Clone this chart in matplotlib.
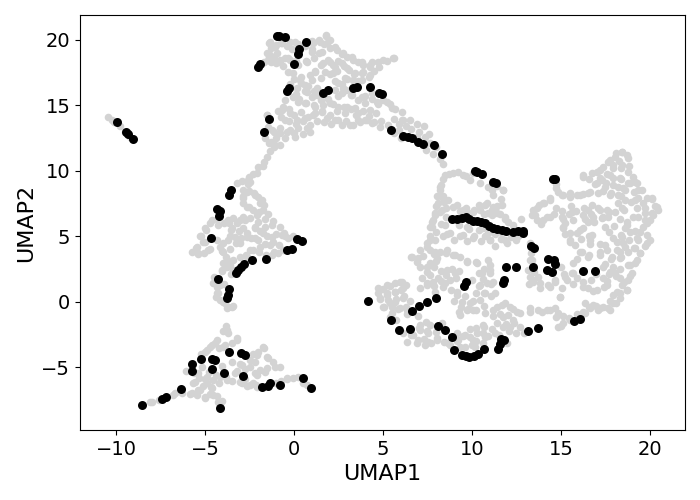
import numpy as np
import matplotlib
matplotlib.use("Agg")
import matplotlib.pyplot as plt

# background cells
spur_bg = [(-10.45,14.08),(-10.25,13.9),(-10.1,13.7),(-9.8,13.4),(-9.5,13.0),(-9.2,12.6)]

top_bg = [
    (-1.4,19.8),(-1.3,19.4),(-1.0,19.6),(-0.7,19.8),(-0.4,19.5),(-0.1,19.3),(-1.5,19.0),(-1.4,18.7),(-1.1,18.6),
    (-0.8,18.5),(-0.5,18.6),(-0.2,18.5),(0.1,18.4),(-0.6,18.0),(-1.0,18.2),(-1.3,18.3),(-1.7,18.3),(0.2,19.7),
    (0.6,19.5),(1.0,19.9),(1.4,20.0),(1.8,20.3),(2.0,20.0),(1.7,19.7),(2.0,19.4),(2.4,19.2),(2.7,18.9),(3.0,18.7),
    (3.3,18.5),(3.6,18.3),(3.9,18.1),(4.3,18.1),(4.7,18.3),(5.2,18.4),(5.6,18.6),(1.0,19.3),(1.4,19.0),(1.1,18.6),
    (0.7,18.4),(1.5,18.1),(1.9,18.5),(2.2,18.1),(2.5,18.4),(2.8,18.0),(3.1,17.7),(2.4,17.6),(2.0,17.4),(3.4,17.4),
    (3.8,17.5),(4.2,17.2),(4.5,17.6),(4.8,17.9),(3.6,16.9),(3.0,17.0),(2.7,16.6),(2.3,16.9),(1.5,17.1),(1.2,17.6),
    (0.9,17.3),(0.4,17.2),(0.0,17.0),(-0.2,16.6),(0.4,16.7),(0.8,16.5),(1.1,16.1),(0.6,16.1),(0.1,15.9),(0.3,15.5),
    (0.7,15.2),(1.1,15.0),(1.5,15.4),(1.3,15.8),(1.9,15.5),(2.2,15.1),(2.5,15.7),(2.9,16.2),(3.2,15.8),(3.6,15.4),
    (4.0,15.7),(4.4,15.5),(4.7,15.1),(5.0,15.4),(5.4,15.1),(5.7,14.7),(-0.4,16.0),(-0.5,15.4),(-0.6,14.9),(-0.9,14.6),
    (-0.3,14.7),(0.0,14.3),(0.4,14.5),(0.8,14.1),(1.2,14.4),(1.6,14.6),(2.0,14.3),(2.4,14.6),(2.8,14.9),(3.2,14.7),
    (3.5,14.3),(3.9,14.6),(4.2,14.2),(4.6,14.4),(-0.7,14.1),(-0.3,13.8),(0.1,13.6),(0.5,13.8),(0.9,13.5),(1.3,13.8),
    (1.7,13.7),(2.1,13.6),(2.5,13.9),(2.9,13.8),(3.3,13.5),(3.7,13.7),(4.1,13.9),(4.5,13.7),(4.9,13.8),(5.3,13.5),
    (-0.8,13.3),(-0.4,13.0),(0.0,12.9),(0.5,12.8),(0.9,13.0),(-1.1,13.0),(-1.5,14.3),(-1.6,12.5),(-1.4,12.1),
    (5.6,14.0),(5.9,13.6),(6.1,13.9),(6.3,13.4),(5.9,13.1),(6.6,13.2),(7.0,13.0),(7.3,13.4),(6.9,13.6),(7.6,12.8),
    (5.6,12.9),(6.0,12.5),(8.0,11.8),(7.4,11.6),(7.8,11.3),(8.2,10.9),(8.4,10.5),
]

top_bg2 = [
    (-1.35,19.87),(-1.07,19.49),(-0.69,19.74),(-0.22,19.87),(0.06,19.87),(-1.35,18.85),(-0.97,18.98),(-1.44,18.47),(-0.79,18.34),
    (-0.32,18.6),(0.71,18.34),(1.0,19.1),(1.09,19.74),(1.46,19.87),(1.78,20.38),(1.84,19.74),(2.3,19.49),(2.77,18.98),(3.24,18.72),
    (3.8,18.34),(4.37,18.34),(5.02,18.47),(5.58,18.6),(4.27,17.96),(1.56,19.1),(1.65,18.22),(2.02,18.34),(2.3,17.96),(2.68,18.22),
    (2.96,17.83),(1.74,17.58),(2.21,17.45),(1.18,17.58),(0.24,18.09),(-0.04,17.45),(-0.32,17.58),(3.43,17.45),(3.9,17.58),(4.27,17.32),
    (3.8,16.94),(3.34,16.94),(2.87,17.07),(2.49,16.69),(2.3,16.18),(2.77,16.31),(2.68,15.92),(3.24,15.8),(3.8,15.67),(4.37,15.92),
    (0.34,16.94),(0.62,16.56),(1.0,16.94),(1.27,16.31),(0.71,16.05),(0.15,16.31),(1.0,15.67),(-0.04,15.67),(0.24,15.29),(0.62,15.16),
    (1.18,14.91),(1.65,15.03),(2.02,15.16),(2.49,14.91),(2.96,14.91),(3.43,14.78),(3.99,15.16),(4.27,14.65),(4.65,15.29),(5.21,15.29),
    (5.49,14.78),(6.05,14.52),(6.52,13.89),(6.05,13.89),(-0.69,14.65),(-0.22,14.4),(-0.5,13.89),(0.15,13.89),(0.62,14.02),(1.09,14.27),
    (1.56,14.52),(1.84,14.02),(2.3,13.89),(2.68,13.5),(3.15,13.5),(3.62,13.89),(3.99,13.89),(4.37,13.63),(4.83,13.38),(3.62,14.4),
    (2.87,14.4),(0.24,13.25),(-0.22,13.13),(-0.79,12.87),(-0.5,12.49),(0.06,12.62),(0.71,13.25),(-1.07,11.98),(-1.53,14.27),(-1.44,13.38),
    (-1.25,13.13),(6.9,12.62),(7.36,12.62),(7.64,12.11),
]

bridge_bg = [(-0.8,12.0),(-1.1,11.8),(-1.35,11.5),(-1.5,11.1),(-1.7,10.7),(-2.0,10.3),(-2.3,9.8),(-2.6,9.3),(-3.2,9.05),
             (-2.9,9.2),(-1.75,10.35),(-1.3,12.2),(-1.0,12.5)]

middle_bg = [
    (-2.55,9.55),(-2.6,9.0),(-2.85,8.55),(-2.55,8.45),(-2.25,8.3),(-2.0,8.0),(-1.8,7.8),(-1.7,7.4),(-2.85,8.05),(-2.85,7.55),
    (-2.55,7.25),(-2.3,7.0),(-1.95,6.9),(-1.45,6.75),(-1.6,6.3),(-1.2,6.15),(-0.8,5.75),(-0.55,5.3),(-0.05,5.0),(-0.5,5.0),
    (-1.0,5.15),(-1.5,5.0),(-1.9,5.4),(-2.2,5.65),(-2.0,6.1),(-2.45,6.4),(-2.85,6.5),(-3.05,6.25),(-3.4,6.4),(-3.65,6.0),
    (-3.95,6.05),(-4.3,6.3),(-4.7,6.0),(-4.95,5.5),(-5.25,5.05),(-5.1,4.55),(-5.5,4.1),(-5.75,3.85),(-5.4,3.65),(-5.05,3.7),
    (-4.7,4.05),(-4.35,4.7),(-4.0,4.5),(-3.6,5.0),(-3.25,4.5),(-2.95,4.9),(-3.1,5.4),(-3.55,5.5),(-2.65,5.3),(-2.4,4.9),
    (-2.0,4.7),(-1.6,4.45),(-1.2,4.6),(-0.85,4.35),(-0.6,4.0),(-1.1,3.85),(-1.55,3.6),(-1.95,3.85),(-2.3,3.95),(-2.7,3.6),
    (-3.05,3.45),(-3.4,3.2),(-3.8,3.45),(-4.05,3.9),(-3.6,4.05),(-4.0,2.95),(-3.75,2.7),(-3.4,2.45),(-4.05,2.4),(-3.55,2.1),
    (-4.5,1.9),(-4.55,1.45),(-4.3,1.15),(-3.95,1.35),(-4.35,0.7),(-4.15,0.15),(-3.9,-0.1),(-3.5,-0.35),(-3.75,-0.45),(-4.4,0.35),
]

middle_bg2 = [
    (-2.65,8.43),(-2.19,8.17),(-2.84,7.92),(-1.91,7.54),(-2.65,7.28),(-1.72,7.03),(-2.09,6.64),(-2.75,6.26),(-3.22,6.01),(-3.69,6.26),
    (-4.25,5.88),(-4.62,6.26),(-5.0,5.63),(-5.28,5.0),(-5.0,4.61),(-5.46,4.23),(-5.37,3.72),(-4.81,3.97),(-4.15,4.23),(-3.97,3.85),
    (-3.78,3.21),(-3.59,2.83),(-3.69,4.74),(-3.31,4.99),(-3.03,4.48),(-2.65,4.99),(-2.19,4.86),(-1.72,5.24),(-1.25,4.99),(-0.69,5.12),
    (-0.31,4.86),(-1.25,5.88),(-1.62,5.75),(-2.47,3.97),(-1.91,4.23),(-1.34,4.35),(-0.88,3.72),(-1.25,3.59),(-2.66,3.46),(-3.5,5.63),
    (-2.84,5.63),(-2.19,5.75),(-4.06,2.45),(-4.43,1.55),(-4.15,1.3),(-4.25,0.66),(-3.97,0.03),(-3.69,-0.35),(-3.4,-0.3),(-2.47,9.19),(-2.09,9.83),
]

lower_bg = [
    (-3.8,-1.85),(-4.0,-2.25),(-3.7,-2.35),(-3.2,-2.75),(-3.5,-3.15),(-4.35,-2.9),(-4.6,-3.3),(-4.9,-3.65),(-5.2,-4.0),(-4.2,-3.5),
    (-3.9,-3.3),(-1.7,-3.55),(-2.0,-3.85),(-1.5,-4.2),(-1.2,-4.55),(-0.8,-4.95),(-1.9,-5.2),(-2.2,-4.55),(-2.45,-4.95),(-3.05,-4.7),
    (-2.75,-5.15),(-2.1,-5.6),(-3.2,-5.25),(-1.5,-5.05),(-2.3,-3.95),(-3.5,-4.6),(-4.05,-4.9),(-4.4,-5.6),(-4.8,-5.35),(-5.15,-5.0),
    (-6.05,-5.3),(-5.6,-5.4),(-5.35,-5.8),(-5.65,-6.2),(-5.0,-5.85),(-4.55,-5.95),(-4.2,-6.15),(-4.65,-6.5),(-5.1,-6.45),(-5.4,-6.75),
    (-5.85,-7.0),(-5.45,-7.1),(-6.3,-6.95),(-6.8,-7.1),(-7.6,-7.45),(-8.1,-7.6),(-5.0,-7.35),(-4.7,-7.05),(-4.35,-7.2),(-4.05,-7.55),
    (-3.5,-6.0),(-3.05,-6.1),(-2.65,-6.45),(-2.3,-6.2),(-2.75,-5.85),(-0.4,-5.85),(-0.7,-6.05),(-1.0,-6.2),(0.2,-5.75),(0.5,-6.2),
    (-3.8,-5.7),(-2.15,-6.35),
]

lower_bg2 = [
    (-3.78,-2.14),(-3.22,-2.9),(-4.43,-3.15),(-4.72,-3.41),(-5.0,-3.79),(-3.97,-3.41),(-1.72,-3.41),(-1.44,-4.3),(-1.06,-4.93),(-1.62,-5.32),
    (-2.19,-5.44),(-2.47,-4.43),(-2.94,-4.81),(-2.09,-4.05),(-3.31,-5.44),(-4.15,-5.7),(-4.9,-5.7),(-5.37,-5.45),(-5.56,-6.08),(-4.9,-6.21),
    (-5.28,-6.72),(-4.62,-6.59),(-5.75,-6.97),(-5.0,-7.22),(-4.53,-7.1),(-4.25,-7.6),(-8.0,-7.6),(-6.68,-6.97),(-3.78,-5.95),(-2.94,-6.21),
    (-2.47,-6.33),(-2.09,-6.46),(-0.41,-5.83),(-0.03,-5.83),(0.72,-6.33),
]

left_lobe_bg = [
    (4.75,0.65),(5.0,1.0),(5.4,1.2),(5.95,1.55),(6.3,1.3),(6.0,0.95),(5.65,0.75),(5.25,0.5),(4.85,0.2),(5.05,-0.35),
    (5.4,-0.1),(5.75,0.25),(6.2,0.45),(6.5,0.05),(6.3,-0.35),(5.85,-0.5),(5.5,-0.85),(5.75,-1.4),(6.35,-0.95),(6.95,-1.1),
    (7.4,-1.5),(7.05,-2.0),(7.5,-2.2),(8.0,-2.3),(6.15,-2.4),(6.55,-2.55),(6.9,-3.15),(7.3,-2.85),(7.7,-3.1),(8.05,-2.9),
    (8.45,-3.05),(8.75,-3.3),(9.35,-3.4),(9.15,-2.95),(9.5,-2.6),(9.9,-2.65),(10.25,-2.95),(10.6,-2.4),(10.65,-1.9),(10.25,-1.95),
    (9.9,-2.1),(10.0,-3.3),(10.6,-3.1),(10.9,-2.6),(7.35,-3.25),(6.35,-3.05),(8.3,-1.6),
]

center_bg = [
    (6.6,3.45),(6.9,3.05),(7.25,3.5),(7.65,3.95),(7.45,4.5),(7.65,5.0),(7.95,4.75),(7.85,3.65),(8.2,3.85),(8.55,3.7),
    (8.95,3.6),(9.35,3.45),(9.7,3.15),(8.0,3.15),(7.65,2.95),(7.85,2.65),(8.25,2.4),(8.55,2.05),(8.9,2.55),(9.3,2.4),
    (7.45,2.3),(7.2,1.85),(7.45,1.45),(7.85,1.2),(8.25,1.6),(8.75,1.65),(9.1,1.85),(8.4,1.15),(7.95,0.75),(8.8,0.95),
    (9.15,0.55),(9.0,0.1),(9.4,-0.35),(9.8,-0.55),(9.3,-0.8),(10.25,-0.6),(10.65,-0.3),(10.05,0.05),(9.6,0.45),(10.2,0.7),
    (10.65,0.65),(11.05,0.45),(10.4,1.25),(10.6,1.75),(10.4,2.2),(10.7,2.55),(11.0,2.2),(11.0,2.85),(10.2,3.05),(11.05,1.4),
    (10.0,1.65),(11.4,-0.35),(11.85,-0.1),(12.3,-0.55),(12.7,-0.85),(12.05,-1.0),(11.6,-0.9),(11.2,-1.1),(11.4,-1.6),(11.9,-1.65),
    (12.35,-1.6),(12.1,-2.2),(12.5,-2.35),(12.9,-2.4),(11.95,-3.15),(11.5,-2.5),(11.1,-2.1),(9.35,5.0),(9.0,4.7),(9.75,4.65),
    (10.1,5.0),(10.5,4.65),(11.0,4.75),(11.3,4.3),(11.95,4.5),(12.2,4.95),(12.5,4.75),(11.65,4.8),(8.6,5.2),(8.35,5.0),
]

center_bg2 = [
    (7.64,4.74),(7.45,4.23),(7.08,3.97),(6.61,3.46),(6.99,3.34),(7.92,3.84),(8.58,3.97),(9.05,3.59),(9.7,3.08),(8.02,3.34),(7.45,2.7),
    (7.08,2.7),(7.64,2.06),(8.11,1.81),(8.58,2.45),(9.05,2.19),(8.48,1.43),(7.45,1.3),(7.08,1.05),(7.83,1.55),(9.14,0.79),(9.42,0.03),
    (9.7,-0.61),(9.33,-1.0),(10.08,-0.61),(10.45,0.15),(10.73,0.66),(10.45,1.3),(10.83,1.43),(10.54,2.19),(10.26,2.95),(10.92,3.21),
    (11.01,2.45),(11.2,1.55),(11.29,0.66),(9.89,-0.1),(11.67,-0.23),(12.14,-0.35),(12.51,-0.74),(11.76,-1.12),(11.2,-0.61),(10.73,-0.86),
    (12.32,-1.37),(12.14,-1.88),(12.7,-1.88),(11.76,-1.88),(11.29,-2.39),(10.64,-1.75),(10.26,-2.39),(10.73,-2.65),(10.08,-2.9),(9.61,-2.52),
    (9.14,-2.39),(9.23,-2.9),(9.61,-3.41),(10.17,-3.41),(8.67,-3.15),(8.02,-2.77),(7.55,-2.39),(7.08,-2.14),(7.55,-3.03),(6.99,-2.9),
    (6.7,-2.52),(7.08,-1.75),(7.64,-1.75),(4.74,1.05),(5.2,1.3),(5.67,1.43),(6.05,1.55),(6.14,1.05),(5.67,0.79),(5.2,0.66),(4.83,0.28),
    (5.3,0.15),(5.67,0.03),(6.14,0.28),(5.02,-0.35),(5.49,-0.35),(5.96,-0.48),(6.33,-0.61),(5.39,-1.12),
]

upper_mid_bg = [
    (8.7,9.8),(9.2,9.9),(9.65,9.65),(10.05,9.85),(8.4,9.4),(8.25,8.9),(8.2,8.55),(8.05,8.1),(8.35,8.05),(8.45,7.65),
    (8.0,7.3),(8.3,7.0),(7.95,6.6),(7.75,6.1),(7.75,5.75),(8.25,5.95),(8.55,6.45),(8.95,7.25),(9.35,6.95),(9.65,7.15),
    (10.1,7.0),(10.4,7.4),(10.85,7.55),(11.1,7.05),(11.4,7.35),(11.15,6.65),(10.65,6.75),(11.6,6.75),(11.65,7.85),(11.85,6.35),
    (11.75,8.55),(11.4,8.85),(9.75,6.85),(10.9,8.75),(12.3,5.9),(12.75,6.35),(8.55,7.2),(9.25,5.9),(9.85,5.6),(10.4,5.5),
    (10.9,5.3),(11.3,5.2),(8.0,5.35),(12.05,6.1),
]

upper_mid_bg2 = [
    (8.48,9.7),(8.95,9.83),(9.51,9.7),(9.89,9.32),(10.45,9.06),(11.11,8.55),(11.76,8.55),(11.2,8.17),(8.2,8.81),(8.3,8.04),(8.11,7.53),
    (7.92,6.77),(7.83,6.26),(7.64,5.75),(8.67,7.79),(8.2,6.9),(8.48,5.88),(8.77,5.24),(9.51,5.12),(10.08,4.86),(10.73,5.0),(9.7,5.75),
    (10.64,5.63),(11.01,4.74),(9.14,7.41),(9.51,7.03),(10.45,7.03),(10.73,7.41),(11.2,7.28),(10.92,6.77),(11.39,6.77),(11.67,7.41),
    (11.86,6.52),(11.67,5.24),(11.86,4.74),(12.6,5.0),(10.08,6.9),
]

right_lobe_bg = [
    (16.25,9.7),(16.6,9.4),(17.0,9.95),(17.35,10.3),(17.75,10.85),(18.1,11.35),(18.45,11.45),(18.7,11.2),(18.25,10.75),(18.8,10.35),
    (18.4,10.25),(17.95,10.2),(17.6,9.75),(17.2,9.45),(16.9,9.0),(17.55,9.05),(17.95,9.45),(18.4,9.35),(19.05,9.55),(18.75,9.1),
    (19.3,9.05),(19.55,8.55),(19.1,8.4),(18.6,8.55),(18.2,8.8),(17.8,8.35),(17.35,8.45),(16.65,8.4),(16.25,8.25),(15.9,8.15),
    (15.5,8.3),(15.1,8.2),(14.75,8.7),(14.7,9.0),(14.4,7.8),(14.05,7.55),(13.75,7.4),(13.45,7.05),(13.4,6.6),(13.65,6.25),
    (13.9,5.95),(14.2,6.45),(14.6,6.75),(15.1,6.3),(15.1,5.75),(15.45,6.75),(15.85,6.95),(16.3,7.15),(16.75,7.4),(17.2,7.05),
    (16.7,6.75),(16.35,6.35),(16.85,6.1),(17.35,6.45),(17.7,6.9),(18.2,7.55),(18.55,7.05),(18.95,7.6),(19.35,7.9),(19.85,7.95),
    (20.1,7.85),(20.3,7.35),(20.48,7.0),(20.2,6.65),(20.0,6.25),(19.7,6.8),(19.35,6.5),(19.6,5.75),(19.15,5.45),(18.7,5.85),
    (18.3,6.3),(18.0,5.8),(17.7,5.35),(17.9,4.9),(18.4,5.1),(18.8,4.75),(19.3,4.9),(20.0,4.7),(19.75,4.25),(19.45,3.7),
    (19.1,4.1),(18.6,4.2),(18.15,3.95),(17.6,4.0),(17.2,4.45),(16.6,5.0),(16.1,4.8),(15.5,4.75),(15.25,5.2),(16.05,5.5),
    (16.65,4.45),(16.2,3.85),(15.9,3.3),(16.6,3.55),(17.2,3.55),(17.8,3.3),(18.4,3.4),(19.15,2.95),(18.75,2.8),(18.3,2.5),
    (17.9,2.7),(17.45,2.9),(17.7,2.1),(18.1,1.95),(18.9,1.95),(18.55,1.5),(18.7,0.9),(18.3,0.65),(18.1,-0.1),(17.75,-0.6),
    (17.75,0.1),(17.35,-0.35),(16.95,-0.3),(16.6,-0.4),(16.25,-0.75),(15.9,-0.9),(15.45,-1.2),(15.1,-1.1),(15.0,-1.85),(14.75,-1.15),
    (14.4,-0.6),(13.95,-0.75),(13.25,-0.75),(15.7,2.2),(15.35,1.65),(15.7,1.35),(16.25,1.15),(16.7,1.65),(16.95,2.1),(17.4,1.15),
    (17.6,1.6),(16.8,0.85),(15.2,2.15),(14.95,0.4),(14.4,1.15),(13.85,1.05),(13.45,1.65),(13.2,1.4),(13.5,2.3),(13.25,3.2),
    (13.3,3.75),(13.25,4.5),(15.0,2.7),(14.65,1.55),(17.9,0.55),(15.05,6.95),(15.55,7.3),(14.75,7.2),(19.85,6.05),(18.35,8.1),
]

right_lobe_bg2 = [
    (16.26,9.56),(16.73,9.82),(17.2,10.07),(17.66,10.71),(18.04,11.09),(18.41,11.42),(18.79,10.96),(18.41,10.45),(17.94,10.45),(18.79,9.94),
    (19.16,9.18),(19.35,8.54),(18.88,9.05),(18.32,9.43),(17.76,9.69),(17.29,9.31),(17.0,9.05),(17.48,8.8),(17.94,8.93),(17.1,8.29),
    (17.76,8.16),(18.23,8.16),(18.5,8.67),(18.6,7.78),(19.16,7.78),(19.63,7.53),(20.1,7.91),(20.38,7.27),(20.1,6.76),(19.72,7.14),
    (19.26,7.14),(19.07,6.51),(19.72,6.25),(18.69,6.13),(18.41,7.14),(18.04,6.89),(17.57,7.02),(17.1,7.14),(16.54,7.02),(16.26,6.64),
    (16.82,6.51),(16.54,6.13),(17.29,6.38),(17.48,5.74),(17.66,6.51),(18.6,5.62),(18.88,5.36),(19.44,5.36),(19.82,5.11),(19.82,4.47),
    (19.35,4.73),(18.41,4.98),(18.13,4.6),(18.5,4.47),(19.16,4.09),(19.44,3.71),(19.26,3.2),(18.79,3.84),(18.32,3.84),(17.85,3.45),
    (18.32,3.33),(18.88,2.82),(18.97,2.18),(18.79,1.67),(18.69,0.91),(18.32,1.8),(18.04,2.18),(18.41,1.29),(18.13,0.78),(18.32,0.27),
    (17.94,-0.11),(17.66,-0.49),(17.2,-0.49),(16.82,-0.24),(16.35,-0.11),(13.64,7.14),(14.01,7.53),(14.39,7.91),(14.85,8.42),(15.04,8.16),
    (15.51,8.04),(16.07,8.16),(16.54,8.29),(13.54,6.64),(14.01,6.25),(14.39,6.51),(15.04,6.51),(15.6,6.89),(15.7,6.25),(15.23,6.0),
    (15.13,5.62),(15.51,5.24),(15.88,5.24),(15.51,4.6),(15.79,4.35),(16.07,3.84),(16.54,3.45),(17.2,3.84),(17.48,4.35),(16.73,5.11),
    (16.63,4.73),(16.26,5.62),(15.7,2.95),(15.6,2.18),(15.23,1.93),(15.88,1.8),(16.26,1.55),(16.54,1.04),(17.0,0.91),(17.38,1.8),
    (17.57,1.29),(17.76,2.31),(17.38,2.69),(14.95,0.4),(15.04,1.04),(14.67,1.67),(14.29,1.29),(13.82,1.42),(13.45,1.55),(13.26,1.93),
    (13.73,1.93),(13.36,3.2),(13.17,2.44),(13.26,-0.49),(13.73,-0.62),(14.2,-0.62),(14.67,-0.49),(14.85,-0.87),(15.13,-1.64),(14.85,-1.89),
    (15.51,-1.38),(16.35,-0.87),(16.63,-0.49),(17.1,-0.62),
]

# labelled cells on top
black_x = [-9.94,-9.43,-9.3,-9.06,-0.94,-0.85,-0.52,0.69,0.3,0.24,0.02,-1.89,-2.02,-0.26,-0.38,1.93,1.65,3.56,3.33,4.29,4.78,4.93,5.47,
           -1.39,-1.67,-3.52,-3.67,-4.31,-4.16,-4.2,-4.64,0.19,0.43,-0.11,-0.38,-1.59,-2.34,-2.83,-2.98,-3.13,-3.26,-4.25,-3.63,-3.71,-3.75,
           -3.65,-3.0,-2.73,-5.24,-4.59,-4.44,-5.71,-5.71,-4.59,-3.92,-2.85,0.52,0.97,-0.77,-1.37,-1.46,-1.8,-6.33,-7.21,-7.39,-8.56,-4.14,
           6.15,6.42,6.65,6.98,7.27,7.88,8.33,10.17,10.3,10.54,11.2,11.35,14.57,14.68,8.9,9.14,9.42,9.65,9.85,10.04,10.26,10.49,10.73,10.97,11.2,11.42,11.67,11.89,
           12.32,12.6,12.85,12.89,13.3,13.5,14.25,14.61,14.68,14.2,14.51,13.44,11.93,12.49,16.25,16.93,11.8,11.72,9.65,9.53,8.0,7.49,7.0,6.65,4.18,5.47,5.92,6.54,8.11,8.5,8.9,
           9.0,9.44,9.66,9.85,10.11,10.35,10.69,11.44,11.57,11.61,11.81,13.16,13.69,15.75,16.08]
black_y = [13.74,12.95,12.8,12.44,20.33,20.28,20.2,19.82,19.3,18.9,18.15,18.15,17.96,16.3,16.13,16.17,15.98,16.39,16.31,16.39,15.95,15.9,13.1,
           13.95,12.95,8.55,8.14,7.07,6.95,6.59,4.86,4.83,4.63,4.07,3.94,3.26,3.18,2.9,2.69,2.47,2.24,1.73,0.97,0.51,0.31,
           -3.84,-3.92,-4.07,-4.37,-4.33,-4.4,-4.76,-5.29,-5.09,-5.44,-5.67,-5.83,-6.59,-6.36,-6.21,-6.39,-6.47,-6.67,-7.28,-7.43,-7.89,-8.09,
           12.7,12.6,12.5,12.24,12.09,11.96,11.27,10.02,9.95,9.75,9.14,9.06,9.39,9.36,6.31,6.33,6.44,6.5,6.31,6.21,6.17,6.1,6.0,5.8,5.67,5.57,5.5,5.44,
           5.37,5.39,5.44,5.29,4.27,4.1,3.26,3.2,2.9,2.42,2.27,2.67,2.67,2.67,2.34,2.34,1.68,1.43,1.55,1.22,0.28,-0.02,-0.31,-0.71,0.05,-1.4,-2.16,-2.04,-1.86,-2.16,-2.65,
           -3.69,-4.02,-4.12,-4.22,-4.12,-3.99,-3.61,-3.56,-3.2,-2.85,-2.92,-2.24,-1.96,-1.47,-1.27]

grey = np.array(spur_bg + top_bg + top_bg2 + bridge_bg + middle_bg + middle_bg2 + lower_bg + lower_bg2 + left_lobe_bg
                + center_bg + center_bg2 + upper_mid_bg + upper_mid_bg2 + right_lobe_bg + right_lobe_bg2)

fig = plt.figure(figsize=(7, 5), dpi=100)
ax = fig.add_axes([80/700, 70/500, 605/700, 415/500])
ax.scatter(grey[:, 0], grey[:, 1], s=30, c="lightgrey", linewidths=0)
ax.scatter(black_x, black_y, s=42, c="black", linewidths=0)
ax.set_xlim(-12.02, 21.97)
ax.set_ylim(-9.77, 21.9)
ax.set_xticks([-10, -5, 0, 5, 10, 15, 20])
ax.set_yticks([-5, 0, 5, 10, 15, 20])
ax.tick_params(labelsize=14)
ax.set_xlabel("UMAP1", fontsize=16)
ax.set_ylabel("UMAP2", fontsize=16)
plt.savefig("out.png")
plt.close()
